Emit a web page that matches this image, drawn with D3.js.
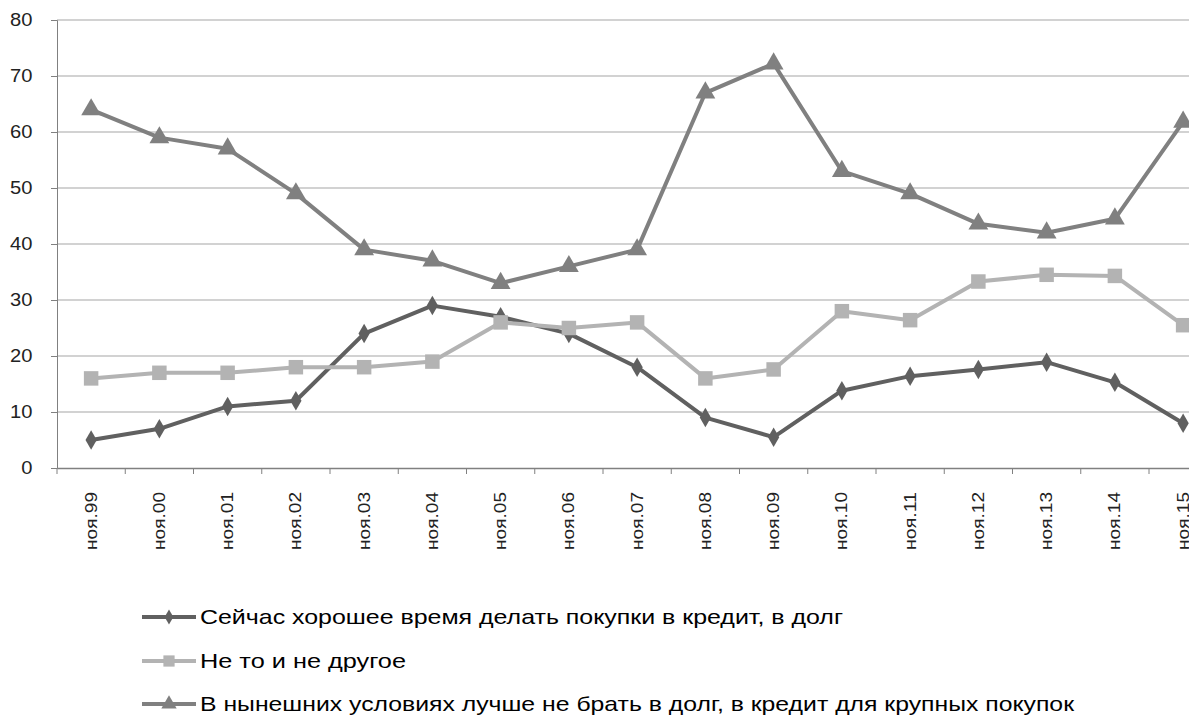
<!DOCTYPE html>
<html><head><meta charset="utf-8">
<script src="https://cdn.jsdelivr.net/npm/d3@7"></script>
<style>body{margin:0;background:#fff}svg{display:block;font-family:"Liberation Sans",Arial,sans-serif}</style>
</head><body><svg id="c" width="1189" height="715"></svg>
<script>
const categories = ["ноя.99","ноя.00","ноя.01","ноя.02","ноя.03","ноя.04","ноя.05","ноя.06","ноя.07","ноя.08","ноя.09","ноя.10","ноя.11","ноя.12","ноя.13","ноя.14","ноя.15"];
const goodTime = [5,7,11,12,24,29,27,24,18,9,5.5,13.8,16.4,17.6,18.9,15.3,8];
const neither = [16,17,17,18,18,19,26,25,26,16,17.6,28,26.4,33.3,34.5,34.3,25.5];
const betterNot = [64,59,57,49,39,37,33,36,39,67,72.2,53,49,43.6,42,44.5,61.8];
const seriesNames = ["Сейчас хорошее время делать покупки в кредит, в долг","Не то и не другое","В нынешних условиях лучше не брать в долг, в кредит для крупных покупок"];
const yTicks = [0,10,20,30,40,50,60,70,80];

const series = [
  {name: seriesNames[0], values: goodTime, color: "#606060", symbol: d3.symbolDiamond, size: 110},
  {name: seriesNames[1], values: neither, color: "#b3b3b3", symbol: d3.symbolSquare, size: 210},
  {name: seriesNames[2], values: betterNot, color: "#808080", symbol: d3.symbolTriangle, size: 170}
];

const svg = d3.select("#c");
const mLeft = 57, mTop = 20, mBottom = 468;
const x = d3.scaleBand().domain(categories).range([mLeft, mLeft + 17*68.25]);
const y = d3.scaleLinear().domain([0,80]).range([mBottom, mTop]);

// gridlines
svg.append("g").selectAll("line").data(yTicks.filter(d=>d>0)).join("line")
  .attr("x1", mLeft).attr("x2", 1230).attr("y1", d=>y(d)).attr("y2", d=>y(d))
  .attr("stroke", "#a6a6a6").attr("stroke-width", 1.2);

// y axis
const ya = svg.append("g").attr("transform", `translate(${mLeft},0)`)
  .call(d3.axisLeft(y).tickValues(yTicks).tickSize(6).tickPadding(16));
ya.select(".domain").attr("stroke", "#808080");
ya.selectAll(".tick line").attr("stroke", "#808080");
ya.selectAll("text").attr("font-size", 18).attr("fill", "#222").attr("font-family", "Liberation Sans, Arial")
  .attr("transform", "scale(1.12,1)");

// x axis
const xa = svg.append("g").attr("transform", `translate(0,${mBottom})`)
  .call(d3.axisBottom(x).tickSize(0));
xa.select(".domain").attr("stroke", "#808080").attr("stroke-width", 1.5);
xa.selectAll(".tick text").attr("font-size", 16).attr("fill", "#222").attr("font-family", "Liberation Sans, Arial")
  .attr("transform", "rotate(-90)").attr("text-anchor", "end").attr("x", -24).attr("y", 0).attr("dy", "0.35em")
  .attr("textLength", 58).attr("lengthAdjust", "spacingAndGlyphs");
// tick marks at band edges
const edges = categories.map(c => x(c)).concat([x(categories[16]) + x.bandwidth()]);
svg.append("g").selectAll("line").data(edges).join("line")
  .attr("x1", d=>d).attr("x2", d=>d).attr("y1", mBottom).attr("y2", mBottom+6)
  .attr("stroke", "#808080").attr("stroke-width", 1);

const cx = c => x(c) + x.bandwidth()/2;
const line = d3.line().x((d,i)=>cx(categories[i])).y(d=>y(d));

series.forEach(s => {
  svg.append("path").datum(s.values).attr("d", line)
    .attr("fill", "none").attr("stroke", s.color).attr("stroke-width", 4).attr("stroke-linejoin", "round");
  svg.append("g").selectAll("path").data(s.values).join("path")
    .attr("d", d3.symbol().type(s.symbol).size(s.size))
    .attr("transform", (d,i)=>`translate(${cx(categories[i])},${y(d)})`)
    .attr("fill", s.color);
});

// legend
const legY = [617, 661, 704];
const legLen = [643, 206, 874];
series.forEach((s, i) => {
  const g = svg.append("g").attr("transform", `translate(0,${legY[i]})`);
  g.append("line").attr("x1", 142).attr("x2", 196).attr("y1", 0).attr("y2", 0)
    .attr("stroke", s.color).attr("stroke-width", 4);
  g.append("path").attr("d", d3.symbol().type(s.symbol).size(s.size*0.6)).attr("transform", "translate(169,0)").attr("fill", s.color);
  g.append("text").attr("x", 200).attr("y", 0).attr("dy", "0.35em")
    .attr("font-size", 21).attr("fill", "#000")
    .attr("textLength", legLen[i]).attr("lengthAdjust", "spacingAndGlyphs").text(s.name);
});
</script></body></html>
